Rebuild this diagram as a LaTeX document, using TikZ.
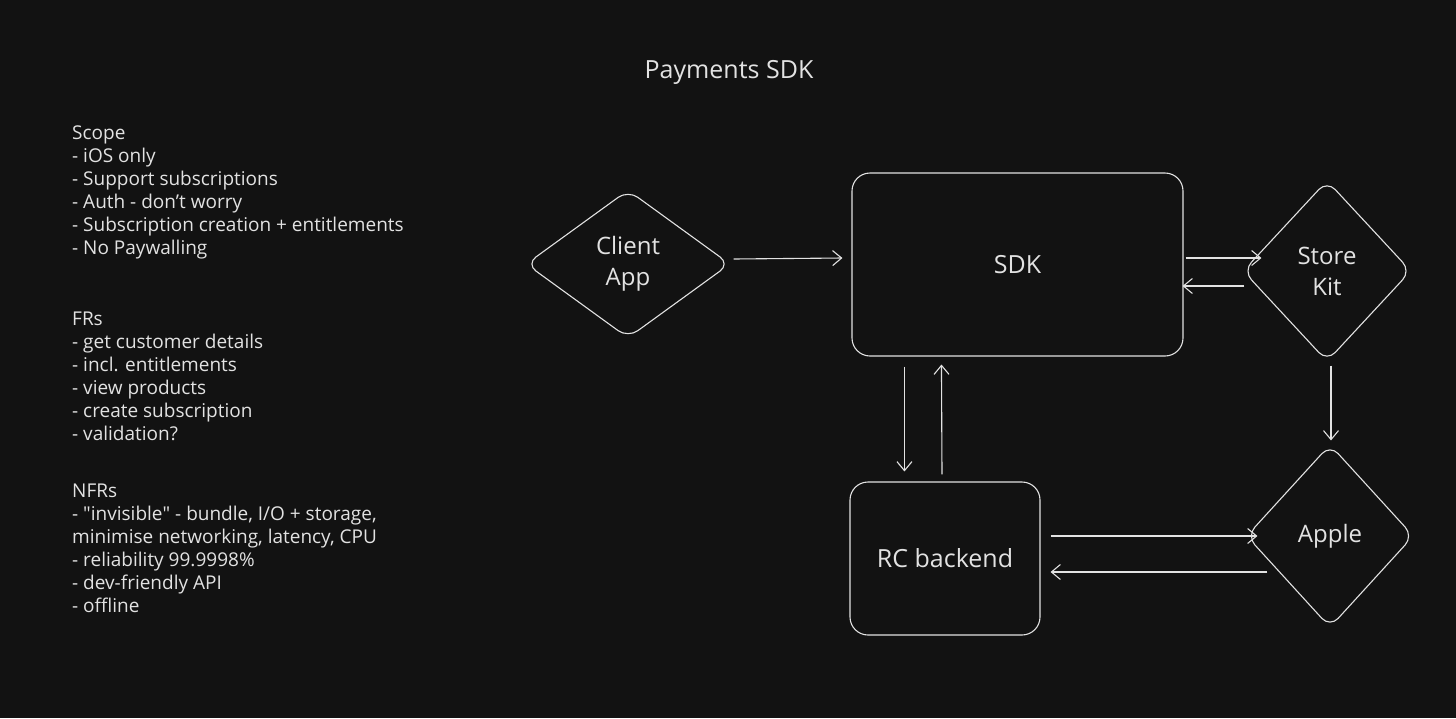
\documentclass[tikz,border=0pt]{standalone}
\usepackage{fontspec}
\setmainfont{Open Sans}
\usepackage{tikz}
\usetikzlibrary{arrows.meta,positioning,shapes.geometric}
\definecolor{bgdark}{HTML}{121212}
\definecolor{chalk}{HTML}{E2E2E2}
\tikzset{
  box/.style={draw=chalk, line width=1.1pt, rounded corners=18pt, text=chalk,
              align=center, inner sep=0pt, font=\fontsize{25}{32}\selectfont},
  dia/.style={diamond, draw=chalk, line width=1.1pt, rounded corners=12pt, text=chalk,
              align=center, inner sep=0pt, font=\fontsize{24}{31}\selectfont},
  flow/.style={-{Straight Barb[length=9pt,width=15pt]}, line width=1.1pt, draw=chalk},
  note/.style={text=chalk, align=left, inner sep=0pt, anchor=north west,
               font=\fontsize{19}{23}\selectfont}
}
\begin{document}
\begin{tikzpicture}[x=1pt, y=-1pt]
  \fill[bgdark] (0,0) rectangle (1456,718);
  \useasboundingbox (0,0) rectangle (1456,718);
  % title
  \node[text=chalk, font=\fontsize{25}{30}\selectfont] (title) at (729,72) {Payments SDK};
  % notes
  \node[note] (scope) at (72,126) {Scope\\
    - iOS only\\
    - Support subscriptions\\
    - Auth - don't worry\\
    - Subscription creation + entitlements\\
    - No Paywalling};
  \node[note] (frs) at (72,312) {FRs\\
    - get customer details\\
    - incl. entitlements\\
    - view products\\
    - create subscription\\
    - validation?};
  \node[note] (nfrs) at (72,484) {NFRs\\
    - \textquotedbl invisible\textquotedbl{} - bundle, I/O + storage,\\
    minimise networking, latency, CPU\\
    - reliability 99.9998\%\\
    - dev-friendly API\\
    - offline};
  % nodes
  \node[dia, minimum width=204pt, minimum height=148pt] (client) at (628,264) {Client\\App};
  \node[box, minimum width=331pt, minimum height=183pt] (sdk) at (1017.5,264.5) {SDK};
  \node[dia, minimum width=168pt, minimum height=181pt] (storekit) at (1327,271) {Store\\Kit};
  \node[dia, minimum width=167pt, minimum height=183pt] (apple) at (1330,536) {Apple};
  \node[box, minimum width=190pt, minimum height=153pt] (rc) at (945,558.5) {RC backend};
  % connectors
  \draw[flow] ([shift={(3,-5)}]client.east) -- ([shift={(-9,-6.5)}]sdk.west);
  \draw[flow] ([shift={(2,-6.5)}]sdk.east) -- ([shift={(19,-13)}]storekit.west);
  \draw[flow] ([shift={(2,15)}]storekit.west) -- ([shift={(-1,21.5)}]sdk.east);
  \draw[flow] ([shift={(4,3.5)}]storekit.south) -- ([shift={(1,-3.5)}]apple.north);
  \draw[flow] ([shift={(53,10)}]sdk.south west) -- ([shift={(55,-10)}]rc.north west);
  \draw[flow] ([shift={(-3,-7)}]rc.north) -- ([shift={(90,8)}]sdk.south west);
  \draw[flow] ([shift={(10,-22.5)}]rc.east) -- ([shift={(11.5,0)}]apple.west);
  \draw[flow] ([shift={(21.5,36)}]apple.west) -- ([shift={(10,13.5)}]rc.east);
\end{tikzpicture}
\end{document}
